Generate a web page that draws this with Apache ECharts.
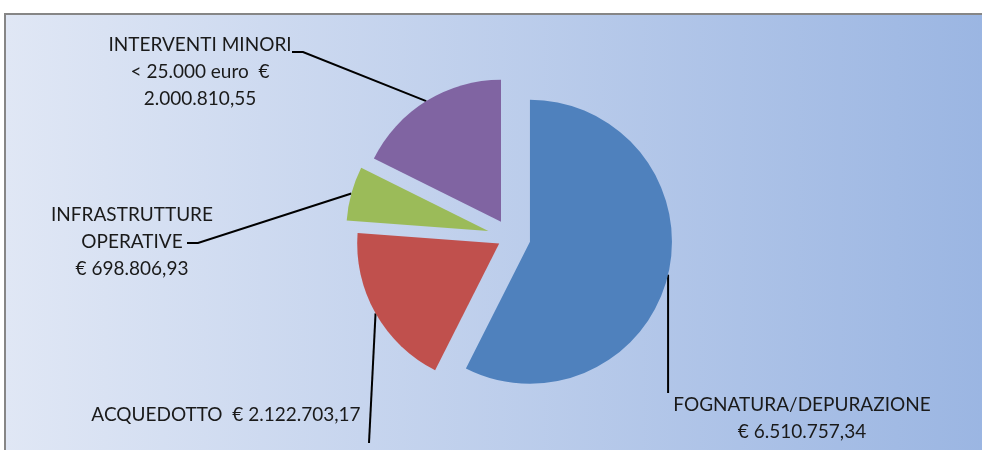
<!DOCTYPE html>
<html>
<head>
<meta charset="utf-8">
<script src="https://cdn.jsdelivr.net/npm/echarts@6/dist/echarts.min.js"></script>
<style>
  html, body { margin: 0; padding: 0; background: #fff; }
  #frame {
    position: absolute; left: 4px; top: 13px; width: 990px; height: 450px;
    border: 2px solid #868686;
    background: linear-gradient(to right, #e0e7f5, #9ab5e2);
  }
  #chart { position: absolute; left: 0; top: 0; width: 982px; height: 450px; }
</style>
</head>
<body>
<div id="frame"></div>
<div id="chart"></div>
<script>
const categories = ['FOGNATURA/DEPURAZIONE', 'ACQUEDOTTO', 'INFRASTRUTTURE\nOPERATIVE', 'INTERVENTI MINORI\n< 25.000 euro']
const amounts = [6510757.34, 2122703.17, 698806.93, 2000810.55]
const sliceColors = ['#4F81BD', '#C0504D', '#9BBB59', '#8064A2']
// text between name, euro sign and amount (Excel wraps them like this)
const labelBreaks = [['\n', ' '], ['  ', ' '], ['\n', ' '], ['  ', '\n']]

// how far each slice is pulled out of the pie
const explode = [20, 13, 23, 18]
// label anchors (center / middle of the text block)
const labelSpots = [[802, 418], [226, 415], [132, 242], [200, 72]]

const pieCenter = [510.5, 237.1]
const pieRadius = 142
const total = amounts.reduce((a, b) => a + b, 0)

function money(v) {
  const parts = v.toFixed(2).split('.')
  return parts[0].replace(/\B(?=(\d{3})+(?!\d))/g, '.') + ',' + parts[1]
}

// leader line: first point comes from the library (on the slice arc)
function leader(i, p0, x, y) {
  let pts
  if (i === 0) pts = [[p0[0], y - 25], [p0[0], y - 25]]
  else if (i === 1) pts = [[x + 143, y + 28], [x + 143, y + 28]]
  else if (i === 2) pts = [[x + 66, y + 1], [x + 55, y + 1]]
  else pts = [[x + 103, y - 20], [x + 92, y - 20]]
  return [p0].concat(pts)
}

const chart = echarts.init(document.getElementById('chart'), null, { renderer: 'canvas' })

let acc = 0
const series = amounts.map((v, i) => {
  const mid = (acc + v / 2) / total * 2 * Math.PI
  acc += v
  const cx = pieCenter[0] + explode[i] * Math.sin(mid)
  const cy = pieCenter[1] - explode[i] * Math.cos(mid)
  return {
    type: 'pie',
    center: [cx, cy],
    radius: pieRadius,
    startAngle: 90,
    clockwise: true,
    silent: true,
    animation: false,
    avoidLabelOverlap: false,
    emphasis: { disabled: true },
    data: amounts.map((w, j) => ({
      value: w,
      name: categories[j],
      itemStyle: { color: j === i ? sliceColors[j] : 'rgba(0,0,0,0)' },
      label: { show: j === i },
      labelLine: { show: j === i }
    })),
    label: {
      formatter: p => p.name + labelBreaks[p.dataIndex][0] + '€' + labelBreaks[p.dataIndex][1] + money(p.value),
      fontFamily: 'Lato',
      fontSize: 19,
      lineHeight: 27,
      color: '#1a1a1a',
      align: 'center'
    },
    labelLine: {
      length: 20,
      length2: 20,
      lineStyle: { color: '#000', width: 2 }
    },
    labelLayout: params => {
      const s = labelSpots[i]
      const p0 = params.labelLinePoints ? params.labelLinePoints[0] : [cx, cy]
      return {
        x: s[0],
        y: s[1],
        align: 'center',
        verticalAlign: 'middle',
        labelLinePoints: leader(i, p0, s[0], s[1])
      }
    }
  }
})

chart.setOption({
  animation: false,
  backgroundColor: 'transparent',
  series: series
})
</script>
</body>
</html>
